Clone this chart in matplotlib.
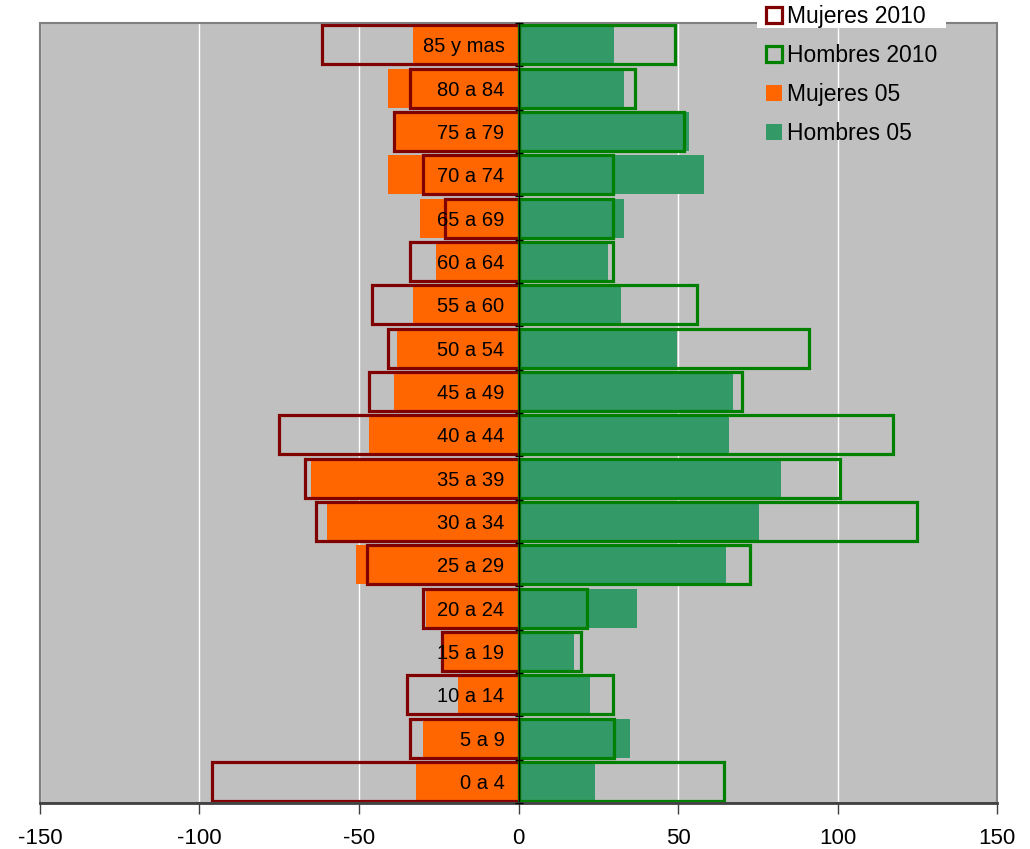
import matplotlib
matplotlib.use("Agg")
import matplotlib.pyplot as plt
from matplotlib.patches import Patch, Rectangle
import numpy as np

plt.rcParams['font.family'] = ['Liberation Sans', 'DejaVu Sans']

# Age groups, bottom to top
grupos = ["0 a 4", "5 a 9", "10 a 14", "15 a 19", "20 a 24", "25 a 29",
          "30 a 34", "35 a 39", "40 a 44", "45 a 49", "50 a 54", "55 a 60",
          "60 a 64", "65 a 69", "70 a 74", "75 a 79", "80 a 84", "85 y mas"]

mujeres_05 = [-32, -30, -19, -24, -29, -51, -60, -65, -47, -39, -38, -33,
              -26, -31, -41, -39, -41, -33]
hombres_05 = [24, 35, 22.5, 17.5, 37, 65, 75.4, 82.3, 66, 67.2, 49.6, 32,
              28, 33, 58, 53.5, 33, 30]
mujeres_2010 = [-96, -34, -35, -24, -30, -47.5, -63.5, -67, -75, -47, -41, -46,
                -34, -23, -30, -39, -34, -61.5]
hombres_2010 = [64.5, 30, 29.5, 19.5, 21.5, 72.5, 125, 100.8, 117.5, 70, 91, 55.8,
                29.5, 29.5, 29.5, 52, 36.5, 49]

x_ticks = [-150, -100, -50, 0, 50, 100, 150]

c_muj05 = "#FF6600"
c_hom05 = "#339966"
c_muj10 = "#800000"
c_hom10 = "#008000"
bg = "#C0C0C0"

fig = plt.figure(figsize=(10.30, 8.49), dpi=100)
ax = fig.add_axes([40 / 1030, 46 / 849, 957 / 1030, 780 / 849])
ax.set_facecolor(bg)

y = np.arange(len(grupos))
h = 0.9

ax.barh(y, mujeres_05, height=h, color=c_muj05, zorder=1)
ax.barh(y, hombres_05, height=h, color=c_hom05, zorder=1)
ax.barh(y, mujeres_2010, height=h, facecolor="none", edgecolor=c_muj10,
        linewidth=2.3, zorder=2)
ax.barh(y, hombres_2010, height=h, facecolor="none", edgecolor=c_hom10,
        linewidth=2.3, zorder=2)

ax.set_xlim(-150, 150)
ax.set_ylim(-0.5, len(grupos) - 0.5)

# vertical grid lines
ax.set_xticks(x_ticks)
ax.set_xticklabels([str(v) for v in x_ticks], fontsize=16)
ax.grid(axis="x", color="white", linewidth=1.0)
ax.xaxis.set_zorder(0.5)
ax.yaxis.set_zorder(5)

# category axis at zero
ax.spines["left"].set_position(("data", 0))
ax.spines["left"].set_color("black")
ax.spines["left"].set_linewidth(1.0)
ax.spines["left"].set_zorder(5)
ax.set_yticks(y)
ax.set_yticklabels(grupos, fontsize=14.5)
ax.tick_params(axis="y", which="major", length=0, pad=10)
ax.set_yticks(np.arange(-0.5, len(grupos)), minor=True)
ax.tick_params(axis="y", which="minor", direction="inout", length=6,
               width=1, color="black")

for s in ["top", "right"]:
    ax.spines[s].set_visible(False)
ax.spines["bottom"].set_color("#404040")
ax.spines["bottom"].set_linewidth(2)
ax.spines["bottom"].set_zorder(5)
ax.tick_params(axis="x", direction="out", length=8, width=1,
               color="#404040", pad=10)

# plot area border
ax.add_patch(Rectangle((0, 0), 1, 1, transform=ax.transAxes, fill=False,
                       edgecolor="#808080", linewidth=1.5, zorder=4,
                       clip_on=False))

# white strip behind the first legend entry
fig.patches.append(Rectangle((757 / 1030, 1 - 28 / 849), 189 / 1030, 10 / 849,
                             transform=fig.transFigure, facecolor="white",
                             edgecolor="none", zorder=3))

handles = [
    Patch(facecolor="white", edgecolor=c_muj10, linewidth=2.3, label="Mujeres 2010"),
    Patch(facecolor="none", edgecolor=c_hom10, linewidth=2.3, label="Hombres 2010"),
    Patch(facecolor=c_muj05, edgecolor="none", label="Mujeres 05"),
    Patch(facecolor=c_hom05, edgecolor="none", label="Hombres 05"),
]
leg = fig.legend(handles=handles, loc="upper left",
                 bbox_to_anchor=(766 / 1030, 1 - 5 / 849),
                 frameon=False, fontsize=16.5, handlelength=0.7,
                 handleheight=0.7, handletextpad=0.2, labelspacing=0.7,
                 borderpad=0, borderaxespad=0)
leg.set_zorder(6)

fig.savefig("out.png", dpi=100, facecolor="white")
